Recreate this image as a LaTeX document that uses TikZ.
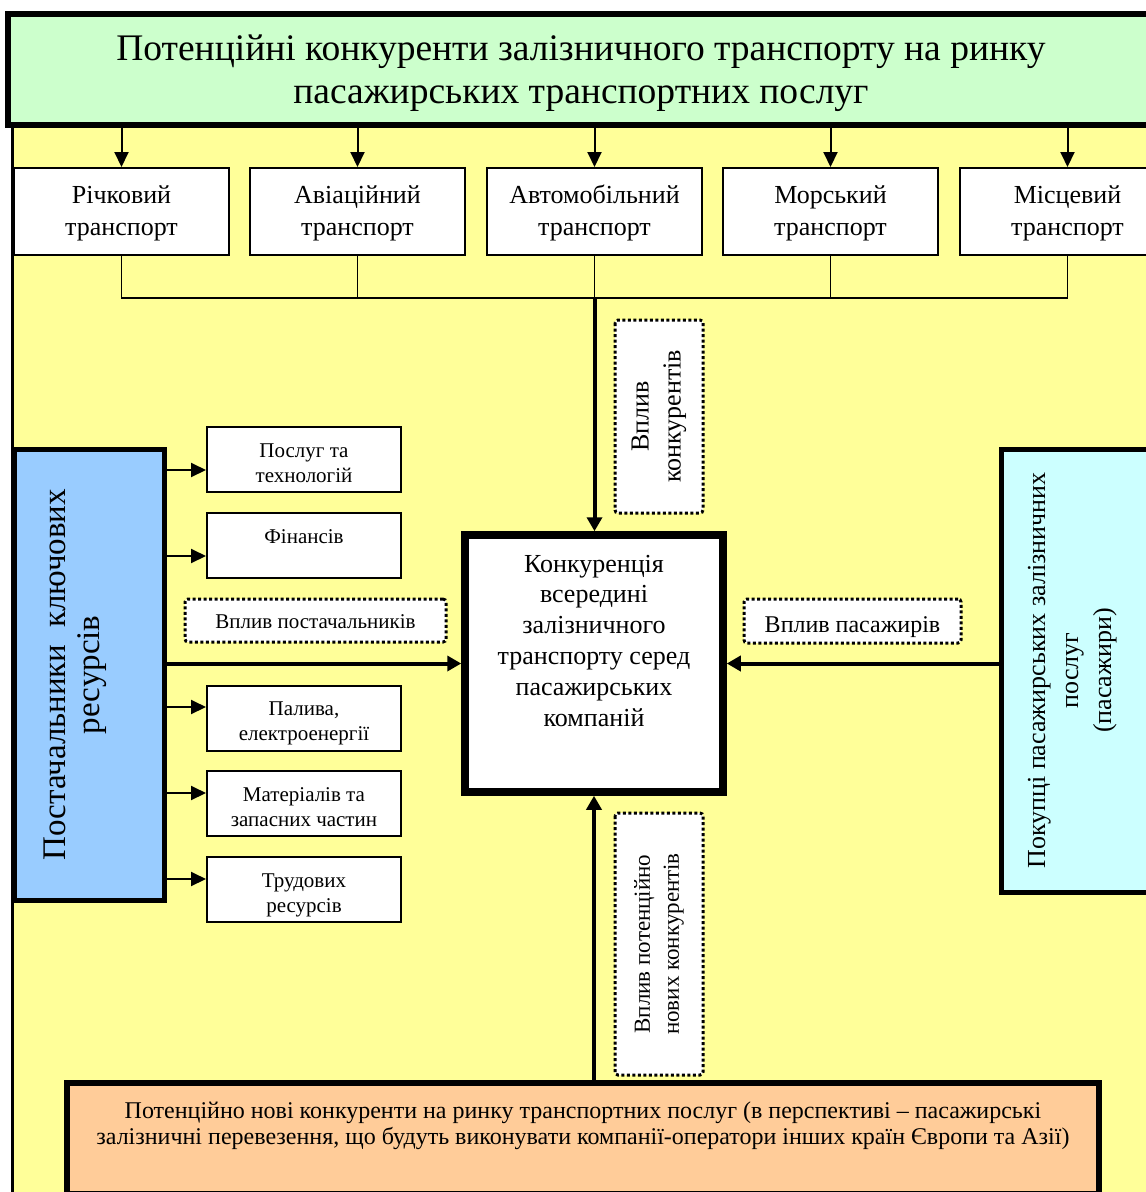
\documentclass[tikz,border=0pt]{standalone}
\usepackage{fontspec}
\setmainfont{Liberation Serif}
\usepackage{graphicx}
\usetikzlibrary{arrows.meta,calc}

% text block of a box: width, height, first baseline, lines
\newcommand{\boxtext}[4]{\parbox[c][#2pt][t]{#1pt}{\centering\rule{0pt}{#3pt}#4}}

\begin{document}
\begin{tikzpicture}[x=1pt,y=-1pt,
  box/.style={draw, inner sep=0pt},
  topbox/.style={box, fill=titleGreen, line width=6pt, font=\fontsize{37.5}{43}\selectfont},
  tbox/.style={box, fill=white, line width=2pt, font=\fontsize{26}{32}\selectfont},
  sbox/.style={box, fill=white, line width=2pt, font=\fontsize{21}{25}\selectfont},
  mainbox/.style={box, fill=white, line width=7.5pt, font=\fontsize{26}{30.8}\selectfont},
  supbox/.style={box, fill=supplierBlue, line width=5pt, font=\fontsize{33}{34}\selectfont},
  buybox/.style={box, fill=buyerCyan, line width=5pt, font=\fontsize{26}{33}\selectfont},
  newbox/.style={box, fill=newOrange, line width=6pt, font=\fontsize{24}{26}\selectfont},
  infl/.style={draw, fill=white, line width=3pt, dash pattern=on 3pt off 2.5pt,
    rounded corners=3pt, inner sep=0pt, align=center},
  arr/.style={line width=2pt, -{Triangle[length=15pt,width=14pt]}},
  bigarr/.style={line width=4pt, -{Triangle[length=14pt,width=15pt]}},
  bus/.style={line width=1.5pt}]
% Colors
\definecolor{titleGreen}{RGB}{204,255,204}
\definecolor{fieldYellow}{RGB}{255,255,153}
\definecolor{supplierBlue}{RGB}{153,204,255}
\definecolor{buyerCyan}{RGB}{204,255,255}
\definecolor{newOrange}{RGB}{255,204,153}
\useasboundingbox (0,0) rectangle (1146,1192);
\clip (0,0) rectangle (1146,1192);
% Yellow field
\draw[fill=fieldYellow, line width=3pt] (12.5,125) rectangle (1170,1215);
% Boxes
\node[topbox] (top) at (581,69.5)
  {\boxtext{1146}{111}{46}{Потенційні конкуренти залізничного транспорту на ринку\\пасажирських транспортних послуг}};
\foreach \n/\x/\w in {1/121.5/Річковий, 2/357.5/Авіаційний, 3/594.5/Автомобільний,
                      4/830.5/Морський, 5/1067.5/Місцевий}
  \node[tbox] (t\n) at (\x,211.5) {\boxtext{215}{87}{35}{\w\\транспорт}};
\node[mainbox] (comp) at (594,663.5)
  {\boxtext{258}{257}{37}{Конкуренція\\всередині\\залізничного\\транспорту серед\\пасажирських\\компаній}};
\node[supbox] (sup) at (89,674.75)
  {\rotatebox{90}{\boxtext{450.5}{150}{51}{Постачальники\ \ ключових\\ресурсів}}};
\node[buybox] (buy) at (1076.75,670.5)
  {\rotatebox{90}{\boxtext{443}{150.5}{43.5}{Покупці пасажирських залізничних\\послуг\\(пасажири)}}};
\foreach \n/\y/\w in {1/459.5/{Послуг та\\технологій}, 2/545.5/{Фінансів},
                      3/718/{Палива,\\електроенергії}, 4/803.5/{Матеріалів та\\запасних частин},
                      5/889.5/{Трудових\\ресурсів}}
  \node[sbox] (s\n) at (304,\y) {\boxtext{194}{65}{30}{\w}};
\node[newbox] (new) at (583,1138.5)
  {\boxtext{1032}{111}{35}{Потенційно нові конкуренти на ринку транспортних послуг (в перспективі – пасажирські\\залізничні перевезення, що будуть виконувати компанії-оператори інших країн Європи та Азії)}};
% Influence labels
\node[infl, rotate=90, minimum width=193pt, minimum height=88pt,
  font=\fontsize{26}{32}\selectfont] (ikon) at (659,416.5) {Вплив\\конкурентів};
\node[infl, rotate=90, minimum width=262pt, minimum height=88pt,
  font=\fontsize{23}{29}\selectfont] (inew) at (659,944) {Вплив потенційно\\нових конкурентів};
\node[infl, minimum width=261pt, minimum height=43pt, text height=18pt, text depth=3pt,
  font=\fontsize{21}{25}\selectfont] (isup) at (315.5,620.5) {Вплив постачальників};
\node[infl, minimum width=217pt, minimum height=44pt, text height=24pt, text depth=2pt,
  font=\fontsize{24}{27}\selectfont] (ipas) at (852.5,621) {Вплив пасажирів};
% Connectors
\coordinate (bus) at (594.5,298);
\foreach \n in {1,...,5}
  \draw[arr] (t\n.north |- top.south) -- (t\n.north);
\draw[bus] (t1.south) |- (bus) -| (t5.south);
\foreach \n in {2,3,4}
  \draw[bus] (t\n.south) -- (t\n.south |- bus);
\draw[bigarr] (bus) -- (bus |- comp.north);
\foreach \n/\d in {1/10.5, 2/10.5, 3/-11, 4/-10.5, 5/-10.5} {
  \coordinate (a\n) at ($(s\n.west)+(0,\d)$);
  \draw[arr] (a\n -| sup.east) -- (a\n);
}
\draw[bigarr] (sup.east |- comp.west) -- (comp.west);
\draw[bigarr] (buy.west |- comp.east) -- (comp.east);
\draw[bigarr] (comp.south |- new.north) -- (comp.south);
\end{tikzpicture}
\end{document}
